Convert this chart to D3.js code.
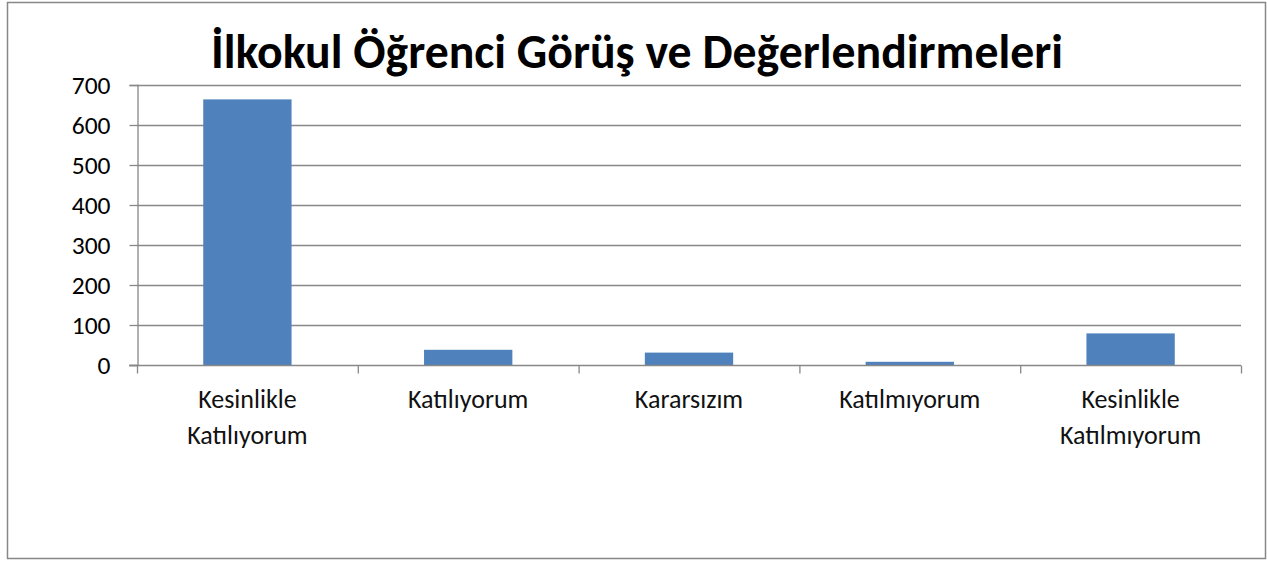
<!DOCTYPE html>
<html><head><meta charset="utf-8">
<script src="https://cdn.jsdelivr.net/npm/d3@7"></script>
<style>body{margin:0;background:#fff}svg{display:block}</style>
</head><body>
<svg id="c" width="1267" height="561"></svg>
<script>
const categories = [["Kesinlikle","Katılıyorum"],["Katılıyorum"],["Kararsızım"],["Katılmıyorum"],["Kesinlikle","Katılmıyorum"]];
const values = [664, 38, 31, 8, 79];
const yTicks = [0,100,200,300,400,500,600,700];
const title = "İlkokul Öğrenci Görüş ve Değerlendirmeleri";

(function(){
const svg = d3.select("#c");
const font = "Carlito, 'Open Sans', 'Noto Sans', sans-serif";
svg.append("rect").attr("x",7.5).attr("y",2.5).attr("width",1258).attr("height",556)
  .attr("fill","#fff").attr("stroke","#878787").attr("stroke-width",1.5);

const pL=137, pR=1241, pT=85, pB=365;
const ids = categories.map((c,i)=>i);
const x = d3.scaleBand().domain(ids).range([pL,pR]).paddingInner(0.6).paddingOuter(0.3);
const y = d3.scaleLinear().domain([0,700]).range([pB,pT]);

svg.append("g").selectAll("line").data(yTicks.filter(d=>d>0)).join("line")
  .attr("x1",pL).attr("x2",pR).attr("y1",d=>y(d)+0.5).attr("y2",d=>y(d)+0.5)
  .attr("stroke","#888").attr("stroke-width",1.3);

svg.append("g").selectAll("rect").data(values).join("rect")
  .attr("x",(d,i)=>x(i)).attr("width",x.bandwidth())
  .attr("y",d=>y(d)).attr("height",d=>pB-y(d)).attr("fill","#4f81bd");

const ya = svg.append("g").attr("transform",`translate(${pL+0.5},0)`)
  .call(d3.axisLeft(y).tickValues(yTicks).tickSize(8).tickPadding(19));
ya.select(".domain").attr("stroke","#888").attr("stroke-width",1.3);
ya.selectAll(".tick line").attr("stroke","#888").attr("stroke-width",1.3);
ya.selectAll("text").attr("font-family",font).attr("font-size",25.5).attr("fill","#000");

const xb = d3.scaleLinear().domain([0,5]).range([pL,pR]);
const xa = svg.append("g").attr("transform",`translate(0,${pB+0.5})`);
xa.append("line").attr("x1",pL-8).attr("x2",pR).attr("stroke","#888").attr("stroke-width",1.3);
xa.selectAll("line.t").data([0,1,2,3,4,5]).join("line").attr("class","t")
  .attr("x1",d=>xb(d)+0.5).attr("x2",d=>xb(d)+0.5).attr("y1",0).attr("y2",8)
  .attr("stroke","#888").attr("stroke-width",1.3);
const lab = svg.append("g").selectAll("text").data(categories).join("text")
  .attr("x",(d,i)=>x(i)+x.bandwidth()/2).attr("y",408)
  .attr("text-anchor","middle").attr("font-family",font).attr("font-size",26).attr("fill","#111");
lab.selectAll("tspan").data(d=>d).join("tspan")
  .attr("x",function(){return this.parentNode.getAttribute("x");})
  .attr("dy",(d,i)=>i===0?0:36).text(d=>d);

const t = svg.append("text").attr("x",637).attr("y",68).attr("text-anchor","middle")
  .attr("font-family",font).attr("font-weight","bold").attr("font-size",40).attr("fill","#000").text(title);
const w = t.node().getComputedTextLength();
t.attr("font-size", 40*852/w);
})();
</script>
</body></html>
